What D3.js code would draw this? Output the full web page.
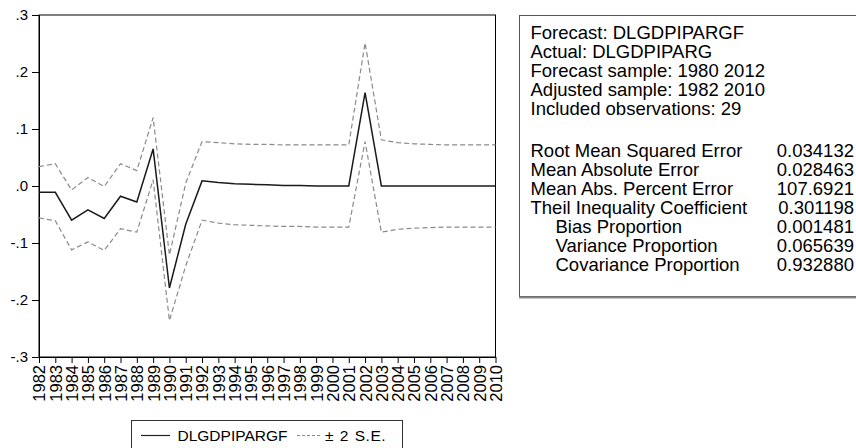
<!DOCTYPE html>
<html>
<head>
<meta charset="utf-8">
<script src="https://cdn.jsdelivr.net/npm/d3@7"></script>
<style>
  html, body { margin: 0; padding: 0; background: #fff; }
  svg { display: block; font-family: "Liberation Sans", Arial, sans-serif; }
</style>
</head>
<body>
<svg id="chart" width="856" height="448"></svg>
<script>
const years = [1982,1983,1984,1985,1986,1987,1988,1989,1990,1991,1992,1993,1994,1995,1996,1997,1998,1999,2000,2001,2002,2003,2004,2005,2006,2007,2008,2009,2010];
const forecast = [-0.011,-0.011,-0.060,-0.042,-0.057,-0.018,-0.028,0.065,-0.179,-0.067,0.009,0.006,0.004,0.003,0.002,0.001,0.001,0.000,0.000,0.000,0.164,0.000,0.000,0.000,0.000,0.000,0.000,0.000,0.000];
const upperBand = [0.034,0.039,-0.007,0.015,-0.001,0.039,0.027,0.120,-0.121,0.005,0.078,0.076,0.074,0.073,0.073,0.072,0.072,0.072,0.072,0.072,0.251,0.081,0.076,0.074,0.073,0.072,0.072,0.072,0.072];
const lowerBand = [-0.056,-0.061,-0.112,-0.098,-0.113,-0.075,-0.081,0.011,-0.236,-0.140,-0.060,-0.065,-0.068,-0.069,-0.070,-0.071,-0.071,-0.072,-0.072,-0.072,0.078,-0.081,-0.076,-0.074,-0.073,-0.072,-0.072,-0.072,-0.072];
const yTicks = [-0.3,-0.2,-0.1,0.0,0.1,0.2,0.3];
const yTickLabels = ["-.3","-.2","-.1",".0",".1",".2",".3"];
const legendLabels = ["DLGDPIPARGF","\u00b1 2 S.E."];
const infoLines = ["Forecast: DLGDPIPARGF","Actual: DLGDPIPARG","Forecast sample: 1980 2012","Adjusted sample: 1982 2010","Included observations: 29"];
const statNames = ["Root Mean Squared Error","Mean Absolute Error","Mean Abs. Percent Error","Theil Inequality Coefficient","Bias Proportion","Variance Proportion","Covariance Proportion"];
const statValues = ["0.034132","0.028463","107.6921","0.301198","0.001481","0.065639","0.932880"];
const statIndent = [0,0,0,0,1,1,1];

const svg = d3.select("#chart");
const L = 39, R = 495.5, T = 15, B = 357;
const FONT = "Liberation Sans, Arial, sans-serif";

const x = d3.scalePoint().domain(years).range([L, R]);
const y = d3.scaleLinear().domain([-0.3, 0.3]).range([B, T]);

// frame
svg.append("rect").attr("x", L).attr("y", T).attr("width", R - L).attr("height", B - T)
  .attr("fill", "none").attr("stroke", "#000").attr("stroke-width", 1);

// y axis
const yAxis = d3.axisLeft(y).tickValues(yTicks).tickSize(7).tickSizeOuter(0)
  .tickFormat((d, i) => yTickLabels[i]);
const gy = svg.append("g").attr("transform", `translate(${L},0)`).call(yAxis);
gy.selectAll("text").attr("font-size", 15).attr("fill", "#000").attr("font-family", FONT).attr("x", -11);
gy.selectAll("line").attr("stroke", "#000");
gy.select(".domain").attr("stroke", "#000");

// x axis
const xAxis = d3.axisBottom(x).tickSize(6).tickSizeOuter(0);
const gx = svg.append("g").attr("transform", `translate(0,${B})`).call(xAxis);
gx.select(".domain").attr("stroke", "#000");
gx.selectAll("line").attr("stroke", "#000");
gx.selectAll("text")
  .attr("font-size", 16.5).attr("fill", "#000").attr("font-family", FONT)
  .attr("transform", "rotate(-90)")
  .attr("text-anchor", "end")
  .attr("x", -8).attr("y", 0).attr("dy", "0.36em");

// lines
const line = d3.line().x((d, i) => x(years[i])).y(d => y(d));
svg.append("path").datum(upperBand).attr("d", line).attr("fill", "none")
  .attr("stroke", "#8a8a8a").attr("stroke-width", 1.2).attr("stroke-dasharray", "5,3");
svg.append("path").datum(lowerBand).attr("d", line).attr("fill", "none")
  .attr("stroke", "#8a8a8a").attr("stroke-width", 1.2).attr("stroke-dasharray", "5,3");
svg.append("path").datum(forecast).attr("d", line).attr("fill", "none")
  .attr("stroke", "#1a1a1a").attr("stroke-width", 1.5);

// legend
const lg = svg.append("g");
lg.append("rect").attr("x", 131.5).attr("y", 420.5).attr("width", 271).attr("height", 40)
  .attr("fill", "#fff").attr("stroke", "#333").attr("stroke-width", 1);
lg.append("line").attr("x1", 141).attr("x2", 170).attr("y1", 435.5).attr("y2", 435.5)
  .attr("stroke", "#222").attr("stroke-width", 1.2);
lg.append("text").attr("x", 177.5).attr("y", 441).attr("font-size", 15.5).text(legendLabels[0]);
lg.append("line").attr("x1", 297).attr("x2", 320).attr("y1", 435.5).attr("y2", 435.5)
  .attr("stroke", "#8a8a8a").attr("stroke-width", 1.2).attr("stroke-dasharray", "3,2");
lg.append("text").attr("x", 325).attr("y", 441).attr("font-size", 15.5)
  .attr("letter-spacing", 0.5).attr("word-spacing", 1).text(legendLabels[1]);

// info box
const ib = svg.append("g");
ib.append("rect").attr("x", 519.5).attr("y", 15.5).attr("width", 360).attr("height", 281)
  .attr("fill", "#fff").attr("stroke", "#555").attr("stroke-width", 1);
ib.append("line").attr("x1", 519).attr("x2", 856).attr("y1", 297.5).attr("y2", 297.5)
  .attr("stroke", "#888").attr("stroke-width", 2);
infoLines.forEach((t, i) => {
  ib.append("text").attr("x", 530.5).attr("y", 38.5 + i * 19).attr("font-size", 18.5).text(t);
});
statNames.forEach((t, i) => {
  ib.append("text").attr("x", 530.5 + statIndent[i] * 25).attr("y", 156.5 + i * 19).attr("font-size", 18.5).text(t);
  ib.append("text").attr("x", 854).attr("y", 156.5 + i * 19).attr("font-size", 18.5).attr("text-anchor", "end").text(statValues[i]);
});
</script>
</body>
</html>
